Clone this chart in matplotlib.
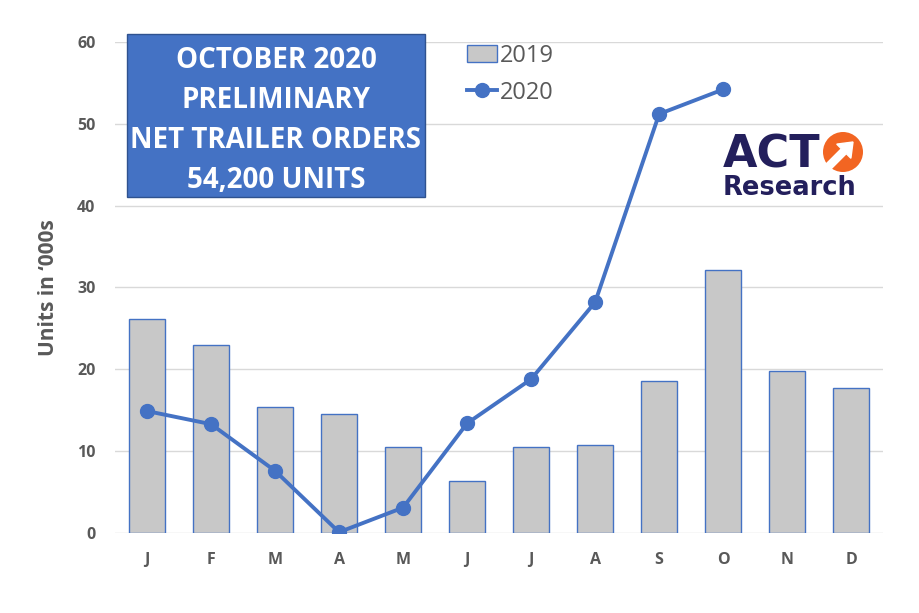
import matplotlib.pyplot as plt
from matplotlib.patches import Circle, FancyArrow, Rectangle

months = ['J', 'F', 'M', 'A', 'M', 'J', 'J', 'A', 'S', 'O', 'N', 'D']
orders_2019 = [26.1, 23.0, 15.4, 14.6, 10.5, 6.3, 10.5, 10.8, 18.6, 32.1, 19.8, 17.7]
orders_2020 = [14.9, 13.3, 7.6, 0.1, 3.1, 13.4, 18.8, 28.2, 51.2, 54.2]

blue = '#4472C4'
grey_txt = '#595959'

plt.rcParams['font.family'] = ['Open Sans', 'DejaVu Sans']

fig = plt.figure(figsize=[9.2, 6.13], dpi=100)
ax = fig.add_axes([0.125, 0.1305, 0.835, 0.801])

x = list(range(len(months)))
bars = ax.bar(x, orders_2019, width=0.57, color='#C8C8C8', edgecolor=blue, linewidth=1.0,
              label='2019', zorder=2)
line, = ax.plot(x[:len(orders_2020)], orders_2020, color=blue, linewidth=2.8, marker='o',
                markersize=10, label='2020', zorder=3)

ax.set_xlim(-0.5, 11.5)
ax.set_ylim(0, 60)
ax.set_yticks(range(0, 61, 10))
ax.set_xticks(x)
ax.set_xticklabels(months)
ax.grid(True, axis='y', color='#D9D9D9', linewidth=1.0, zorder=0)
ax.set_axisbelow(True)
for s in ax.spines.values():
    s.set_visible(False)
ax.tick_params(length=0, labelsize=11.5, labelcolor=grey_txt, pad=14)
for t in ax.get_xticklabels() + ax.get_yticklabels():
    t.set_fontweight('bold')
ax.set_ylabel('Units in \u2018000s', fontsize=15, fontweight='bold', color=grey_txt, labelpad=13)

leg = ax.legend([bars, line], ['2019', '2020'], loc='upper left',
                bbox_to_anchor=(0.43, 1.04), frameon=False,
                fontsize=17, handlelength=1.3, handletextpad=0.1, labelspacing=0.55)
for t in leg.get_texts():
    t.set_color(grey_txt)

# headline box
fig.patches.append(Rectangle((127 / 920, 1 - 197 / 613), 298 / 920, 163 / 613,
                             transform=fig.transFigure, facecolor=blue,
                             edgecolor='#2F528F', linewidth=1, zorder=5))
fig.text(276 / 920, 1 - 121 / 613,
         'OCTOBER 2020\nPRELIMINARY\nNET TRAILER ORDERS\n54,200 UNITS',
         ha='center', va='center', color='white', fontsize=20, fontweight='bold',
         linespacing=1.5, zorder=6)

# logo, drawn in a small axes measured in pixels
navy = '#231F5C'
lg = fig.add_axes([715 / 920, 1 - 200 / 613, 160 / 920, 75 / 613])
lg.set_xlim(0, 160)
lg.set_ylim(0, 75)
lg.axis('off')
lg.text(8, 32, 'ACT', color=navy, fontsize=32, fontweight='heavy',
        family='DejaVu Sans', ha='left', va='baseline')
lg.text(8, 5, 'Research', color=navy, fontsize=18.5, fontweight='heavy',
        family='DejaVu Sans', ha='left', va='baseline')
lg.add_patch(Circle((128, 48), 20, facecolor='#F26522', edgecolor='none'))
lg.add_patch(FancyArrow(112, 32, 26, 26, width=7, head_width=20, head_length=13,
                        color='white', length_includes_head=True))

fig.savefig('out.png', dpi=100)
